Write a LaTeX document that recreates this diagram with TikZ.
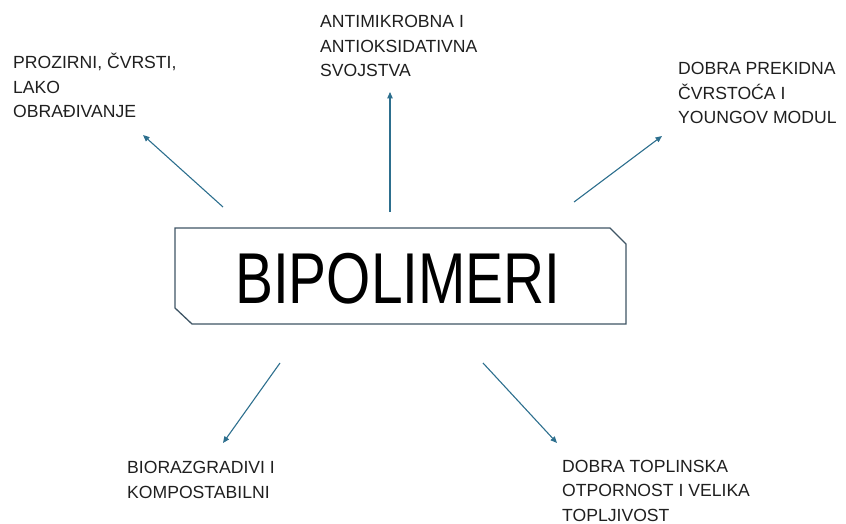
\documentclass[tikz,border=0pt]{standalone}
\usepackage{fontspec}
\setmainfont{Liberation Sans}
\newfontfamily\bigfont[FakeStretch=0.79]{Liberation Sans}
\usetikzlibrary{arrows.meta}
\definecolor{arrowc}{HTML}{2D6F8E}
\definecolor{boxc}{HTML}{3F5565}
\tikzset{
  lbl/.style={anchor=base west, inner sep=0pt, align=left, font=\fontsize{17.6}{24.5}\selectfont, text=black!88},
  conn/.style={draw=arrowc, line width=1.1pt, -{Triangle[length=6.5pt,width=5.5pt]}},
}
\begin{document}
\begin{tikzpicture}[x=1pt,y=-1pt]
\useasboundingbox (0,0) rectangle (846,524);
% central box
\draw[boxc, line width=1.3pt, fill=white] (175,228) -- (610,228) -- (626,244) -- (626,324) -- (192,324) -- (175,308) -- cycle;
\node (main) at (398,279) {\bigfont\fontsize{72}{72}\selectfont BIPOLIMERI};
% labels (anchored at the baseline of the last line)
\node[lbl] (t1) at (13,118) {PROZIRNI, ČVRSTI,\\LAKO\\OBRAĐIVANJE};
\node[lbl] (t2) at (320,77) {ANTIMIKROBNA I\\ANTIOKSIDATIVNA\\SVOJSTVA};
\node[lbl] (t3) at (678,124) {DOBRA PREKIDNA\\ČVRSTOĆA I\\YOUNGOV MODUL};
\node[lbl] (t4) at (127,498) {BIORAZGRADIVI I\\KOMPOSTABILNI};
\node[lbl] (t5) at (562,521) {DOBRA TOPLINSKA\\OTPORNOST I VELIKA\\TOPLJIVOST};
% arrow ends
\coordinate (a1s) at (223,207); \coordinate (a1e) at (143,135);
\coordinate (a2s) at (390,212); \coordinate (a2e) at (390,92);
\coordinate (a3s) at (574,202); \coordinate (a3e) at (662,136);
\coordinate (a4s) at (280,363); \coordinate (a4e) at (223,443);
\coordinate (a5s) at (483,363); \coordinate (a5e) at (557,443);
\draw[conn] (a1s) -- (a1e);
\draw[conn] (a2s) -- (a2e);
\draw[conn] (a3s) -- (a3e);
\draw[conn] (a4s) -- (a4e);
\draw[conn] (a5s) -- (a5e);
\end{tikzpicture}
\end{document}
